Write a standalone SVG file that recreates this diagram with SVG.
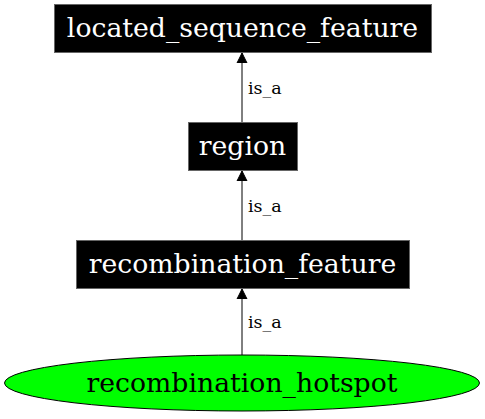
<svg xmlns="http://www.w3.org/2000/svg" width="485" height="419" viewBox="0 0 485 419">
<defs>
<marker id="arr" markerWidth="10" markerHeight="14" refX="10" refY="5" orient="auto" markerUnits="userSpaceOnUse" viewBox="0 0 10 10">
<path d="M0,0 L10,5 L0,10 Z" fill="#000" stroke="#000"/>
</marker>
<style>
.box{fill:#000;stroke:#666;stroke-width:1}
.nt{font-family:"DejaVu Serif",serif;font-size:26.7px;fill:#fff;text-anchor:middle}
.el{font-family:"DejaVu Serif",serif;font-size:26.7px;fill:#000;text-anchor:middle}
.lb{font-family:"DejaVu Serif",serif;font-size:17.5px;fill:#000}
.edge{stroke:#000;stroke-width:1;fill:none}
</style>
</defs>
<rect width="485" height="419" fill="#fff"/>
<g id="connectors">
<line class="edge" x1="242" y1="122" x2="242" y2="53" marker-end="url(#arr)"/>
<text class="lb" x="248" y="94">is_a</text>
<line class="edge" x1="242" y1="240" x2="242" y2="171" marker-end="url(#arr)"/>
<text class="lb" x="248" y="212">is_a</text>
<line class="edge" x1="242" y1="355" x2="242" y2="289" marker-end="url(#arr)"/>
<text class="lb" x="248" y="328">is_a</text>
</g>
<g id="located_sequence_feature">
<rect class="box" x="54.5" y="4.5" width="377" height="48"/>
<text class="nt" x="242.5" y="36.5">located_sequence_feature</text>
</g>
<g id="region">
<rect class="box" x="188.5" y="122.5" width="109" height="48"/>
<text class="nt" x="242.5" y="154.5">region</text>
</g>
<g id="recombination_feature">
<rect class="box" x="76.5" y="240.5" width="333" height="48"/>
<text class="nt" x="242.5" y="272.5">recombination_feature</text>
</g>
<g id="recombination_hotspot">
<ellipse cx="242" cy="383" rx="237.5" ry="28" fill="#00ff00" stroke="#000"/>
<text class="el" x="242" y="391.5">recombination_hotspot</text>
</g>
</svg>
